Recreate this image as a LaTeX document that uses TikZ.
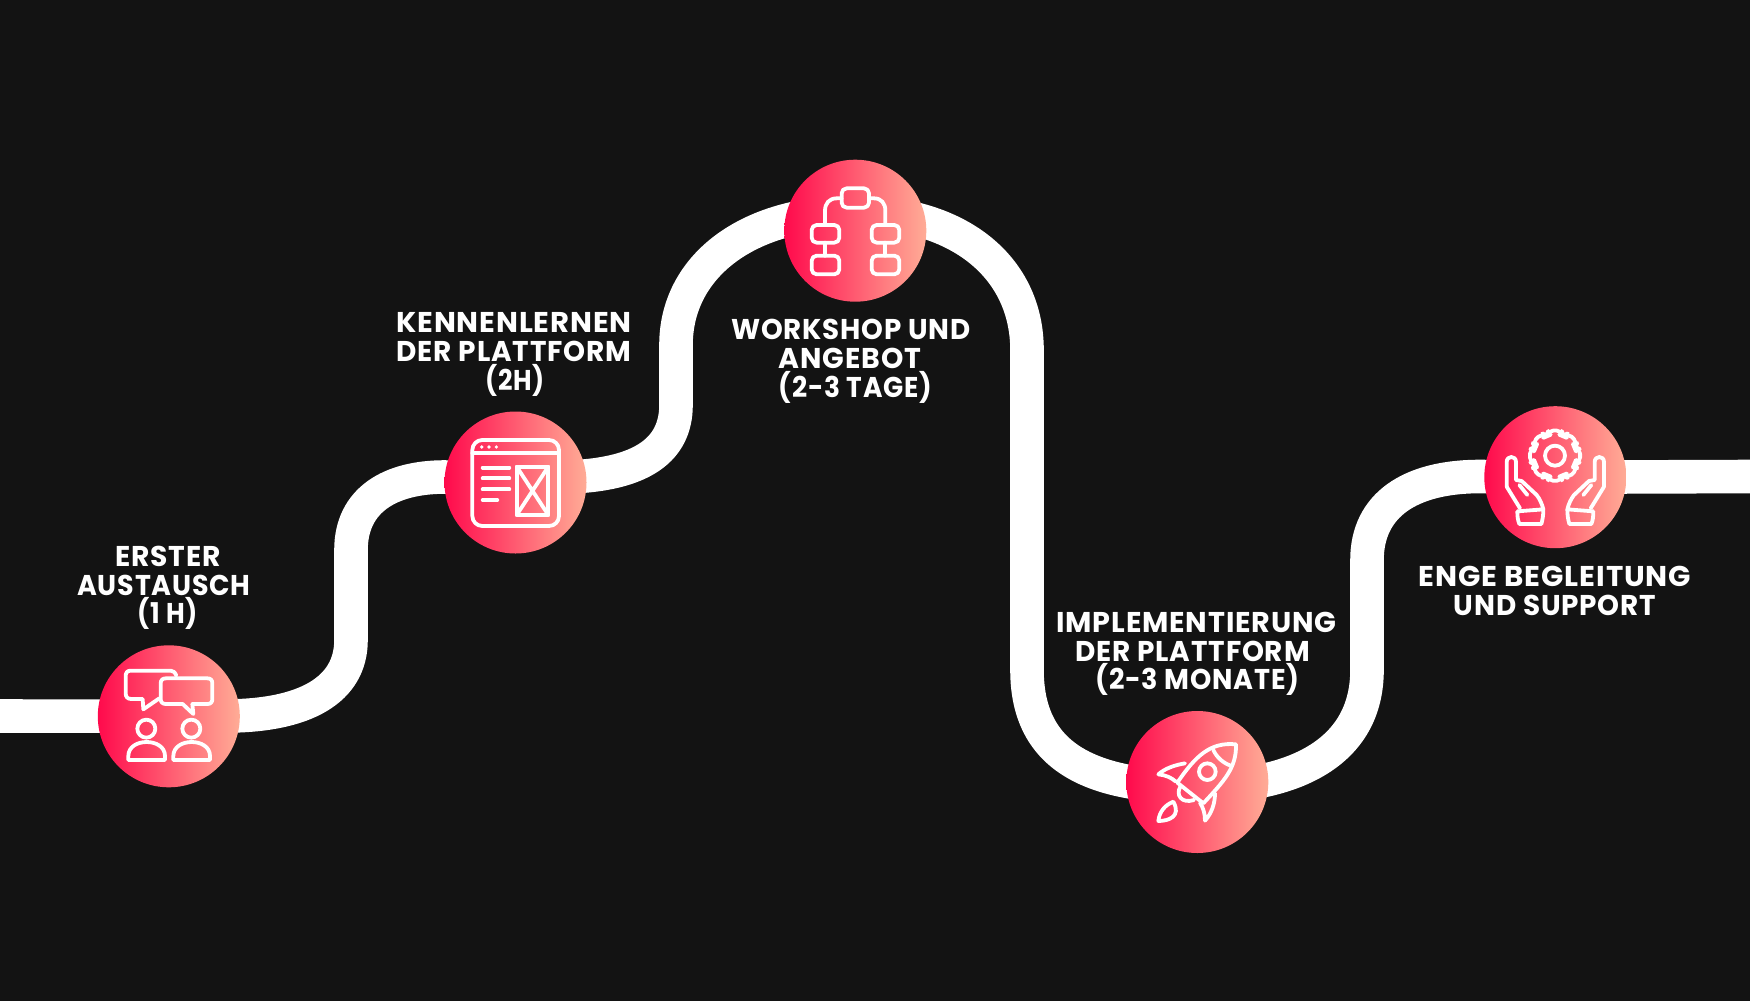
\documentclass[tikz,border=0pt]{standalone}
\usepackage{fontspec}
\usepackage{graphicx}
\setmainfont{Poppins}[LetterSpace=3]
\pgfdeclarelayer{roadlayer}
\pgfsetlayers{roadlayer,main}
\definecolor{bgdark}{HTML}{131313}
\definecolor{gradL}{HTML}{FF0A4C}
\definecolor{gradR}{HTML}{FFAC96}
\tikzset{
  x=0.5pt,y=-0.5pt,
  road/.style={draw=white,line width=16.8pt,line join=round},
  stepdot/.style={circle,inner sep=0pt,minimum size=71pt,left color=gradL,right color=gradR},
  lab/.style={text=white,align=center,inner sep=0pt,font=\fontsize{14.3}{14.35}\selectfont\bfseries},
  ico/.style={draw=white,line width=1.9pt,line join=round,line cap=round},
  zoomed/.style={shift={#1},scale=1/3}
}
% one label line, stretched horizontally to its width (pt)
\newcommand{\fitline}[2]{\setbox0=\hbox{#2}\pgfmathsetmacro\fitratio{(#1+1.2)/\the\wd0}\scalebox{\fitratio}[1]{#2}}
\newcommand{\handshape}{%
  \draw[ico] (320,290) -- (320,216) .. controls (320,196) and (348,196) .. (348,216) -- (348,270) -- (365,273) -- (410,315) .. controls (420,328) and (426,342) .. (430,358) .. controls (430,375) and (428,388) .. (424,402) -- (358,402) .. controls (353,390) and (352,378) .. (352,364) -- (430,358);
  \draw[ico] (320,290) -- (360,355);
  \draw[ico] (358,285) -- (382,315);
}
\begin{document}
\begin{tikzpicture}
\useasboundingbox (0,0) rectangle (1750,1001);
\begin{pgfonlayer}{roadlayer}
\fill[bgdark] (0,0) rectangle (1750,1001);
\end{pgfonlayer}

\node[stepdot] (c1) at (168.8,716.3) {};
\node[stepdot] (c2) at (515.5,482.5) {};
\node[stepdot] (c3) at (855.3,230.7) {};
\node[stepdot] (c4) at (1197.3,782) {};
\node[stepdot] (c5) at (1555.3,477.2) {};
\coordinate (startpt) at (0,716);
\coordinate (endpt) at (1750,476.5);

\begin{pgfonlayer}{roadlayer}
\draw[road] (startpt) -- (c1.center);
\draw[road] (c1.center) -- (225,716) .. controls (305,716) and (351,690) .. (351,640) -- (351,550) .. controls (351,500) and (390,477) .. (445,477) -- (c2.center);
\draw[road] (c2.center) -- (585,476) .. controls (640,471) and (676,451) .. (676,405) -- (676,345) .. controls (676,268) and (745,212) .. (855,212) -- (c3.center);
\draw[road] (c3.center) -- (855,212) .. controls (960,212) and (1027,268) .. (1027,350) -- (1027,670) .. controls (1027,760) and (1095,787) .. (1197,787) -- (c4.center);
\draw[road] (c4.center) -- (1197,787) .. controls (1295,787) and (1367,752) .. (1367,670) -- (1367,560) .. controls (1367,505) and (1410,476.5) .. (1480,476.5) -- (c5.center);
\draw[road] (c5.center) -- (endpt);
\end{pgfonlayer}

% labels
\node[lab] (t1) at (167.8,588) {\fitline{51.5}{ERSTER}\\\fitline{85.5}{AUSTAUSCH}\hspace{3.9pt}\mbox{}\\\fitline{29}{(1 H)}};
\node[lab] (t2) at (514,354.5) {\fitline{116.5}{KENNENLERNEN}\\\fitline{116}{DER PLATTFORM}\\\hspace*{1.3pt}\fitline{28.5}{(2H)}};
\node[lab] (t3) at (851,361.5) {\fitline{118.5}{WORKSHOP UND}\\\fitline{70}{ANGEBOT}\hspace{1pt}\mbox{}\\\hspace*{4.5pt}\fitline{75.5}{(2-3 TAGE)}};
\node[lab] (t4) at (1196.5,654) {\fitline{139}{IMPLEMENTIERUNG}\\\fitline{116}{DER PLATTFORM}\hspace{4pt}\mbox{}\\\hspace*{1pt}\fitline{101}{(2-3 MONATE)}};
\node[lab] (t5) at (1555,591) {\fitline{135}{ENGE BEGLEITUNG}\\\fitline{100}{UND SUPPORT}};

% icon 1: conversation
\begin{scope}[zoomed={(60,530)}]
\draw[ico] (349,437) .. controls (345,427) and (340,422) .. (332,422) -- (212,422) .. controls (202,422) and (197,428) .. (197,438) -- (197,490) .. controls (197,501) and (203,507) .. (214,507) -- (248,507) -- (250,538) -- (298,505);
\draw[ico] (318,445) -- (442,445) .. controls (452,445) and (457,450) .. (457,460) -- (457,507) .. controls (457,517) and (452,522) .. (442,522) -- (397,522) -- (400,552) -- (368,522) -- (318,522) .. controls (308,522) and (302,517) .. (302,507) -- (302,460) .. controls (302,450) and (308,445) .. (318,445) -- cycle;
\draw[ico] (259,596) circle[radius=27];
\draw[ico] (394,596) circle[radius=27];
\draw[ico] (205,690) -- (315,690) -- (315,678) .. controls (315,622) and (205,622) .. (205,678) -- cycle;
\draw[ico] (340,690) -- (450,690) -- (450,678) .. controls (450,622) and (340,622) .. (340,678) -- cycle;
\end{scope}

% icon 2: wireframe
\begin{scope}[zoomed={(380,290)}]
\draw[ico,rounded corners=5pt] (277,450) rectangle (537,708);
\draw[ico] (277,490) -- (537,490);
\fill[white] (305,471) circle[radius=5.5] (327,471) circle[radius=5.5] (349,471) circle[radius=5.5];
\draw[ico] (308,533) -- (388,533) (308,565) -- (388,565) (308,598) -- (388,598) (308,630) -- (352,630);
\draw[ico] (410,530) rectangle (505,675);
\draw[ico] (410,530) -- (505,675) (505,530) -- (410,675);
\end{scope}

% icon 3: flow chart
\begin{scope}[zoomed={(720,140)}]
\begin{scope}[rounded corners=2.5pt]
\draw[ico] (365,145) rectangle (447,203);
\draw[ico] (275,255) rectangle (358,308);
\draw[ico] (275,347) rectangle (358,403);
\draw[ico] (455,255) rectangle (538,308);
\draw[ico] (455,347) rectangle (538,403);
\end{scope}
\draw[ico] (365,175) -- (350,175) .. controls (328,175) and (315,190) .. (315,212) -- (315,255);
\draw[ico] (447,175) -- (462,175) .. controls (484,175) and (496,190) .. (496,212) -- (496,255);
\draw[ico] (315,308) -- (315,347);
\draw[ico] (496,308) -- (496,347);
\end{scope}

% icon 4: rocket
\begin{scope}[zoomed={(1040,600)}]
\draw[ico] (588,433) .. controls (510,425) and (465,470) .. (412,548) -- (490,610) .. controls (550,545) and (590,505) .. (588,433) -- cycle;
\draw[ico] (520,450) .. controls (530,472) and (550,490) .. (575,498);
\draw[ico] (502,515) circle[radius=25];
\draw[ico] (435,490) .. controls (405,495) and (375,505) .. (355,523) .. controls (375,525) and (393,532) .. (408,545);
\draw[ico] (525,580) .. controls (525,610) and (515,640) .. (495,662) .. controls (495,640) and (490,625) .. (480,608);
\draw[ico] (422,558) .. controls (405,585) and (425,612) .. (462,600);
\draw[ico] (400,605) .. controls (375,615) and (358,635) .. (355,663) .. controls (385,663) and (425,650) .. (400,605) -- cycle;
\end{scope}

% icon 5: hands and gear
\begin{scope}[zoomed={(1400,390)}]
\draw[ico,rounded corners=2.5pt,shift={(465,197)}] (75:78)
  \foreach \a in {90,135,180,225,270,315,360,405} {
    -- (\a-15:78) -- (\a+15:78) -- (\a+20:63) -- (\a+25:63)
  } -- cycle;
\draw[ico] (465,197) circle[radius=30];
\handshape
\begin{scope}[shift={(932,0)},xscale=-1]
\handshape
\end{scope}
\end{scope}
\end{tikzpicture}
\end{document}
